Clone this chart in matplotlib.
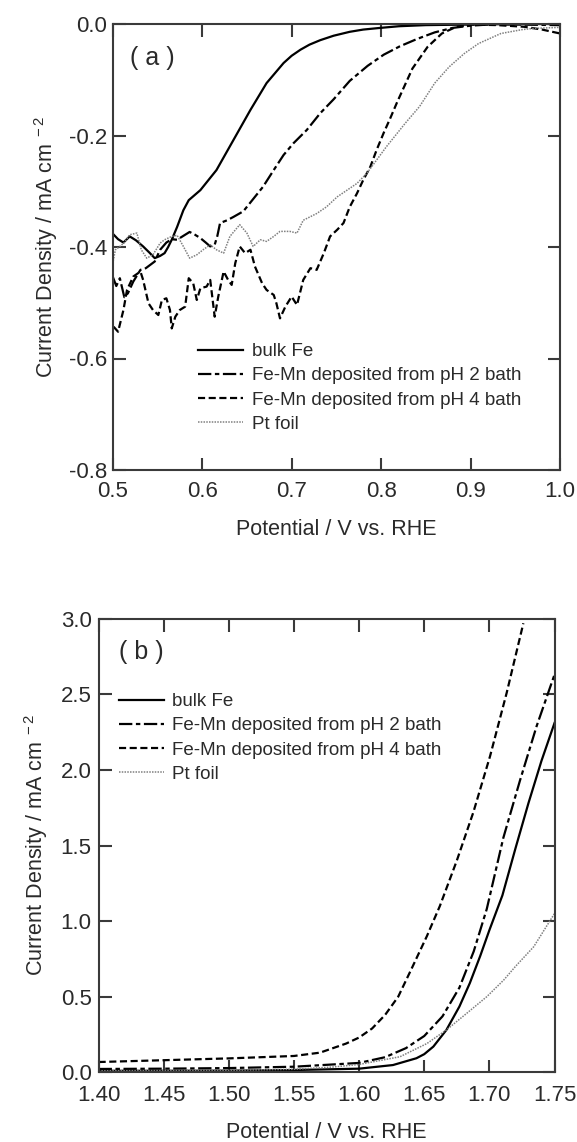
import matplotlib
matplotlib.use("Agg")
import matplotlib.pyplot as plt

plt.rcParams['font.family'] = ['Liberation Sans', 'DejaVu Sans']
plt.rcParams['axes.unicode_minus'] = False
plt.rcParams['mathtext.fontset'] = 'custom'
plt.rcParams['mathtext.rm'] = 'Liberation Sans'
plt.rcParams['mathtext.it'] = 'Liberation Sans'

# ---------------- Panel (a) data ----------------
a_fe_x = [0.500, 0.506, 0.512, 0.519, 0.526, 0.534, 0.541, 0.547, 0.553, 0.558, 0.562, 0.566,
          0.572, 0.579, 0.585, 0.598, 0.616, 0.635, 0.654, 0.672, 0.691, 0.700, 0.710, 0.720,
          0.732, 0.747, 0.765, 0.780, 0.799, 0.820, 0.850, 0.900, 0.950, 1.000]
a_fe_y = [-0.376, -0.386, -0.392, -0.381, -0.388, -0.399, -0.410, -0.420, -0.416, -0.411, -0.400, -0.387,
          -0.364, -0.334, -0.316, -0.298, -0.262, -0.208, -0.154, -0.106, -0.070, -0.057, -0.046, -0.037,
          -0.029, -0.021, -0.014, -0.010, -0.007, -0.004, -0.002, -0.001, 0.000, 0.000]

a_ph2_x = [0.500, 0.504, 0.508, 0.513, 0.517, 0.523, 0.531, 0.537, 0.542, 0.547, 0.553, 0.560,
           0.566, 0.572, 0.579, 0.586, 0.592, 0.598, 0.604, 0.609, 0.614, 0.617, 0.620, 0.628,
           0.635, 0.646, 0.657, 0.668, 0.680, 0.691, 0.702, 0.717, 0.732, 0.747, 0.765, 0.785,
           0.803, 0.821, 0.840, 0.860, 0.880, 0.900, 0.920, 0.950, 1.000]
a_ph2_y = [-0.453, -0.470, -0.456, -0.490, -0.483, -0.462, -0.441, -0.438, -0.432, -0.426, -0.405, -0.392,
           -0.386, -0.387, -0.380, -0.373, -0.378, -0.384, -0.392, -0.399, -0.396, -0.380, -0.357, -0.352,
           -0.346, -0.336, -0.314, -0.292, -0.262, -0.235, -0.214, -0.190, -0.160, -0.135, -0.102, -0.075,
           -0.055, -0.040, -0.027, -0.015, -0.007, -0.003, -0.001, -0.001, -0.002]

a_ph4_x = [0.501, 0.506, 0.512, 0.516, 0.523, 0.531, 0.534, 0.540, 0.545, 0.551, 0.555, 0.560,
           0.564, 0.566, 0.570, 0.575, 0.581, 0.585, 0.590, 0.594, 0.598, 0.605, 0.609, 0.614,
           0.618, 0.624, 0.629, 0.633, 0.637, 0.642, 0.648, 0.654, 0.659, 0.667, 0.672, 0.680,
           0.683, 0.687, 0.693, 0.700, 0.706, 0.713, 0.721, 0.728, 0.736, 0.743, 0.751, 0.758,
           0.765, 0.773, 0.780, 0.788, 0.795, 0.803, 0.810, 0.818, 0.835, 0.852, 0.868, 0.884,
           0.900, 0.930, 0.960, 0.980, 1.000]
a_ph4_y = [-0.543, -0.552, -0.513, -0.477, -0.453, -0.444, -0.459, -0.501, -0.513, -0.522, -0.495, -0.492,
           -0.513, -0.546, -0.525, -0.513, -0.507, -0.456, -0.465, -0.495, -0.474, -0.471, -0.459, -0.525,
           -0.489, -0.444, -0.459, -0.468, -0.429, -0.399, -0.411, -0.405, -0.435, -0.465, -0.477, -0.486,
           -0.501, -0.528, -0.507, -0.489, -0.504, -0.459, -0.438, -0.441, -0.411, -0.381, -0.369, -0.357,
           -0.328, -0.304, -0.280, -0.256, -0.226, -0.195, -0.170, -0.140, -0.080, -0.041, -0.017, -0.005,
           -0.001, -0.002, -0.005, -0.010, -0.017]

a_pt_x = [0.500, 0.503, 0.508, 0.513, 0.519, 0.527, 0.532, 0.538, 0.545, 0.553, 0.558, 0.566,
          0.572, 0.579, 0.586, 0.594, 0.601, 0.609, 0.616, 0.624, 0.631, 0.642, 0.650, 0.657,
          0.665, 0.672, 0.680, 0.687, 0.698, 0.706, 0.713, 0.728, 0.739, 0.751, 0.762, 0.773,
          0.784, 0.795, 0.806, 0.821, 0.827, 0.843, 0.860, 0.876, 0.893, 0.909, 0.934, 0.958,
          0.970, 1.000]
a_pt_y = [-0.430, -0.405, -0.399, -0.392, -0.378, -0.375, -0.405, -0.420, -0.414, -0.393, -0.387, -0.381,
          -0.379, -0.399, -0.420, -0.414, -0.405, -0.396, -0.405, -0.411, -0.381, -0.360, -0.375, -0.399,
          -0.387, -0.390, -0.381, -0.372, -0.372, -0.375, -0.352, -0.340, -0.328, -0.310, -0.298, -0.286,
          -0.268, -0.244, -0.220, -0.190, -0.178, -0.148, -0.106, -0.077, -0.053, -0.035, -0.017, -0.010,
          -0.008, -0.006]

# ---------------- Panel (b) data ----------------
b_fe_x = [1.40, 1.45, 1.50, 1.55, 1.60, 1.626, 1.644, 1.650, 1.657, 1.667, 1.677, 1.685, 1.693, 1.700,
          1.710, 1.720, 1.730, 1.740, 1.750]
b_fe_y = [0.010, 0.010, 0.011, 0.015, 0.024, 0.048, 0.093, 0.12, 0.17, 0.28, 0.435, 0.59, 0.77, 0.94,
          1.17, 1.48, 1.78, 2.06, 2.31]

b_ph2_x = [1.40, 1.45, 1.50, 1.55, 1.60, 1.62, 1.636, 1.65, 1.664, 1.677, 1.688, 1.698, 1.7107,
           1.7235, 1.7363, 1.75]
b_ph2_y = [0.022, 0.024, 0.028, 0.037, 0.062, 0.10, 0.16, 0.24, 0.37, 0.56, 0.80, 1.08, 1.55,
           1.93, 2.29, 2.63]

b_ph4_x = [1.40, 1.45, 1.50, 1.55, 1.57, 1.58, 1.59, 1.60, 1.61, 1.62, 1.63, 1.64, 1.652, 1.662,
           1.675, 1.6877, 1.7005, 1.7133, 1.7261]
b_ph4_y = [0.068, 0.080, 0.092, 0.108, 0.13, 0.16, 0.19, 0.23, 0.29, 0.38, 0.50, 0.68, 0.90, 1.10,
           1.40, 1.72, 2.09, 2.51, 2.97]

b_pt_x = [1.40, 1.45, 1.50, 1.55, 1.58, 1.60, 1.6314, 1.652, 1.667, 1.6826, 1.698, 1.711, 1.72,
          1.734, 1.75]
b_pt_y = [0.010, 0.011, 0.013, 0.020, 0.035, 0.052, 0.103, 0.19, 0.28, 0.39, 0.50, 0.61, 0.70,
          0.83, 1.05]

labels = ["bulk Fe", "Fe-Mn deposited from pH 2 bath", "Fe-Mn deposited from pH 4 bath", "Pt foil"]

a_xticks = [0.5, 0.6, 0.7, 0.8, 0.9, 1.0]
a_xticklabels = ["0.5", "0.6", "0.7", "0.8", "0.9", "1.0"]
a_yticks = [0.0, -0.2, -0.4, -0.6, -0.8]
a_yticklabels = ["0.0", "-0.2", "-0.4", "-0.6", "-0.8"]
b_xticks = [1.40, 1.45, 1.50, 1.55, 1.60, 1.65, 1.70, 1.75]
b_xticklabels = ["1.40", "1.45", "1.50", "1.55", "1.60", "1.65", "1.70", "1.75"]
b_yticks = [0.0, 0.5, 1.0, 1.5, 2.0, 2.5, 3.0]
b_yticklabels = ["0.0", "0.5", "1.0", "1.5", "2.0", "2.5", "3.0"]

W, H = 577, 1142
fig = plt.figure(figsize=(W / 100, H / 100), dpi=100)

TXT = '#2a2a2a'
SP = '#3a3a3a'
styles = [
    dict(color='black', lw=1.6, ls='-'),
    dict(color='black', lw=1.6, ls=(0, (6, 1.6, 2, 1.6))),
    dict(color='black', lw=1.6, ls=(0, (3.2, 1.6))),
    dict(color='#808080', lw=1.1, ls=(0, (1, 0.8))),
]

def px_axes(l, r, t, b):
    return fig.add_axes([l / W, 1 - b / H, (r - l) / W, (b - t) / H])

def style_axes(ax, xpad, ypad):
    for s in ax.spines.values():
        s.set_linewidth(1.5)
        s.set_color(SP)
    ax.tick_params(direction='in', length=9, width=1.5, color=SP, top=True, right=True,
                   labelsize=16, labelcolor=TXT)
    ax.tick_params(axis='x', pad=xpad)
    ax.tick_params(axis='y', pad=ypad)

# Panel (a)
ax1 = px_axes(112.7, 560, 24, 470)
series_a = [(a_fe_x, a_fe_y), (a_ph2_x, a_ph2_y), (a_ph4_x, a_ph4_y), (a_pt_x, a_pt_y)]
for (x, y), st, lab in zip(series_a, styles, labels):
    ax1.plot(x, y, label=lab, **st)
ax1.set_xlim(0.5, 1.0)
ax1.set_ylim(-0.8, 0.0)
ax1.set_xticks(a_xticks)
ax1.set_xticklabels(a_xticklabels)
ax1.set_yticks(a_yticks)
ax1.set_yticklabels(a_yticklabels)
style_axes(ax1, 8, 4)
ax1.set_xlabel("Potential / V vs. RHE", fontsize=15.5, color=TXT)
ax1.set_ylabel("Current Density / mA cm$^{\\,\\,-2}$", fontsize=15.5, color=TXT)
ax1.xaxis.set_label_coords(0.5, -0.11)
ax1.yaxis.set_label_coords(-0.118, 0.5)
ax1.text(130 / W, 1 - 58 / H, "( a )", transform=fig.transFigure, fontsize=18, color=TXT,
         va='center', ha='left')
leg1 = ax1.legend(loc='upper left', bbox_to_anchor=(198 / W, 1 - 343 / H),
                  bbox_transform=fig.transFigure, frameon=False, fontsize=13.5,
                  handlelength=2.4, handletextpad=0.5, labelspacing=0.38, borderpad=0,
                  borderaxespad=0)
for t in leg1.get_texts():
    t.set_color(TXT)

# Panel (b)
ax2 = px_axes(98.6, 554.5, 618.7, 1072.3)
series_b = [(b_fe_x, b_fe_y), (b_ph2_x, b_ph2_y), (b_ph4_x, b_ph4_y), (b_pt_x, b_pt_y)]
for (x, y), st, lab in zip(series_b, styles, labels):
    ax2.plot(x, y, label=lab, **st)
ax2.set_xlim(1.40, 1.75)
ax2.set_ylim(0.0, 3.0)
ax2.set_xticks(b_xticks)
ax2.set_xticklabels(b_xticklabels)
ax2.set_yticks(b_yticks)
ax2.set_yticklabels(b_yticklabels)
style_axes(ax2, 9, 5)
ax2.set_xlabel("Potential / V vs. RHE", fontsize=15.5, color=TXT)
ax2.set_ylabel("Current Density / mA cm$^{\\,\\,-2}$", fontsize=15.5, color=TXT)
ax2.xaxis.set_label_coords(0.5, -0.11)
ax2.yaxis.set_label_coords(-0.106, 0.5)
ax2.text(119 / W, 1 - 652 / H, "( b )", transform=fig.transFigure, fontsize=18, color=TXT,
         va='center', ha='left')
leg2 = ax2.legend(loc='upper left', bbox_to_anchor=(119 / W, 1 - 693 / H),
                  bbox_transform=fig.transFigure, frameon=False, fontsize=13.5,
                  handlelength=2.4, handletextpad=0.4, labelspacing=0.38, borderpad=0,
                  borderaxespad=0)
for t in leg2.get_texts():
    t.set_color(TXT)

fig.savefig("out.png", dpi=100, facecolor='white')
